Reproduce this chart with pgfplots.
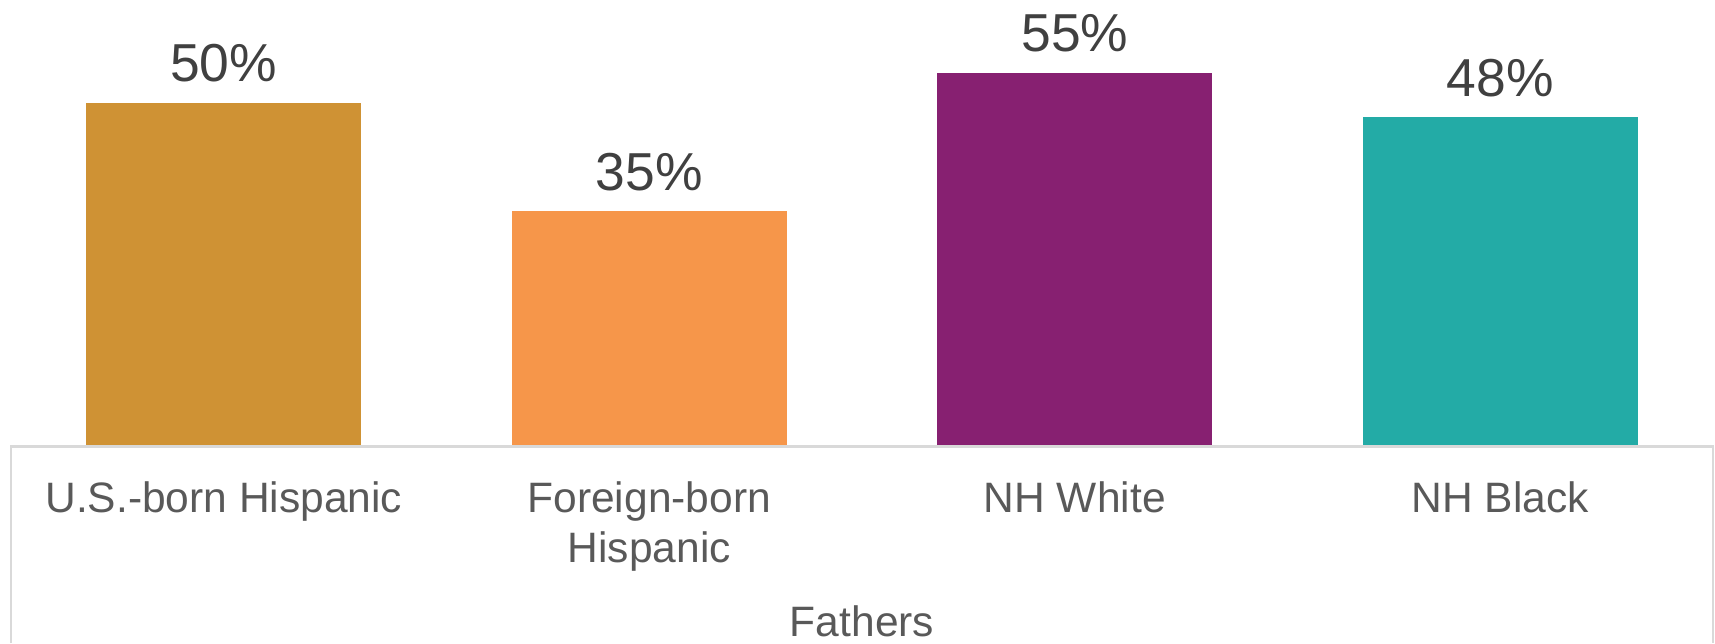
\documentclass[border=0pt]{standalone}
\usepackage{fontspec}
\setmainfont{Liberation Sans}
\usepackage{pgfplots}
\pgfplotsset{compat=1.18}
\usetikzlibrary{calc}
\definecolor{cA}{HTML}{CF9234}
\definecolor{cB}{HTML}{F6964A}
\definecolor{cC}{HTML}{872071}
\definecolor{cD}{HTML}{23ABA6}
\definecolor{vtxt}{HTML}{404040}
\definecolor{ctxt}{HTML}{595959}
\definecolor{boxc}{HTML}{D9D9D9}
\begin{document}
\begin{tikzpicture}
\begin{axis}[
  scale only axis,
  width=170.2mm, height=44.65mm,
  xmin=-0.5, xmax=3.5,
  ymin=0, ymax=65.47,
  ybar, bar width=27.5mm, bar shift=0pt,
  axis line style={draw=none},
  axis y line=none,
  ytick=\empty,
  xtick={0,1,2,3},
  major tick length=0pt,
  xticklabels={U.S.-born Hispanic, Foreign-born\\Hispanic, NH White, NH Black},
  xticklabel style={anchor=north, inner sep=0pt, yshift=-3.45mm, align=center,
    font=\fontsize{12.1pt}{14.2pt}\selectfont, text=ctxt},
  xlabel={Fathers},
  xlabel style={at={(rel axis cs:0.5,0)}, anchor=base, inner sep=0pt, yshift=-18.95mm,
    font=\fontsize{12.1pt}{14.2pt}\selectfont, text=ctxt},
  nodes near coords={\pgfmathprintnumber[fixed,precision=0,assume math mode=true]{\pgfplotspointmeta}\%},
  every node near coord/.append style={anchor=base, inner sep=0pt, yshift=2.1mm,
    font=\fontsize{15.2pt}{18pt}\selectfont, text=vtxt},
  clip=false,
]
\addplot[fill=cA, draw=none] coordinates {(0,50.4)};
\addplot[fill=cB, draw=none] coordinates {(1,34.5)};
\addplot[fill=cC, draw=none] coordinates {(2,54.8)};
\addplot[fill=cD, draw=none] coordinates {(3,48.3)};
\coordinate (bl) at (rel axis cs:0,0);
\coordinate (br) at (rel axis cs:1,0);
\coordinate (tr) at (rel axis cs:1,1);
\end{axis}
\draw[boxc, line width=0.25mm] ($(bl)+(0,-19.65mm)$) -- (bl) -- (br) -- ($(br)+(0,-19.65mm)$);
\pgfresetboundingbox
\path ($(bl)+(-1.1mm,-19.65mm)$) rectangle ($(tr)+(0.2mm,0)$);
\end{tikzpicture}
\end{document}
